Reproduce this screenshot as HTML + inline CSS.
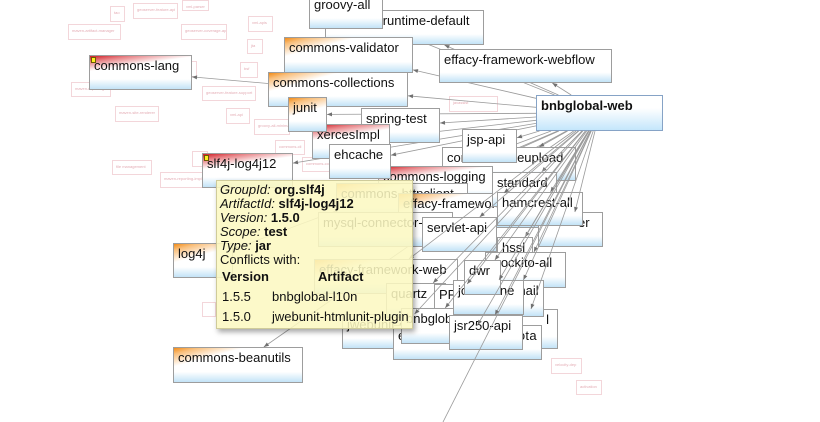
<!DOCTYPE html>
<html><head><meta charset="utf-8">
<style>
html,body{margin:0;padding:0;background:#fff;overflow:hidden;}
#c{position:relative;width:820px;height:422px;overflow:hidden;background:#fff;}
.g{position:absolute;box-sizing:border-box;border:1px solid #f3d6da;font:4px/5px "Liberation Sans",sans-serif;color:#e4adb5;padding:3px 0 0 3px;white-space:nowrap;overflow:hidden;background:#fff}
.n{position:absolute;box-sizing:border-box;border:1px solid #9d9d9d;background:linear-gradient(to bottom,#fff 0,#fff 70%,#c3e3f7 100%);font:13px/15px "Liberation Sans",sans-serif;color:#111;padding:2px 0 0 4px;white-space:nowrap;overflow:hidden}
.o{background:linear-gradient(165deg,#f28c18 0px,rgba(247,170,80,.75) 6px,rgba(255,255,255,0) 18px),linear-gradient(to bottom,#fff 0,#fff 70%,#c3e3f7 100%)}
.r{background:linear-gradient(172deg,#cf1f26 0px,rgba(222,80,85,.7) 6px,rgba(255,255,255,0) 15px),linear-gradient(to bottom,#fff 0,#fff 70%,#c3e3f7 100%)}
.b{border:1px solid #86a3c6;font-weight:bold;background:linear-gradient(to bottom,#fff 0,#fff 35%,#c4e6fb 100%)}
.mk{position:absolute;left:1px;top:1px;width:3px;height:4px;background:#ffee22;border:1px solid #6b5a00}
svg{position:absolute;left:0;top:0}
svg line{stroke:#9a9a9a;stroke-width:.8}
svg polygon{fill:#707070}
#tip{position:absolute;left:216px;top:180px;width:197px;height:149px;box-sizing:border-box;border:1px solid #cfcb9a;background:rgba(251,248,193,.87);box-shadow:2px 3px 5px rgba(0,0,0,.35);font:13px/14px "Liberation Sans",sans-serif;color:#111}
#tip div{position:absolute;white-space:nowrap}
</style></head><body>
<div id="c">
<!-- ghost nodes -->
<div class="g" style="left:110px;top:6px;width:15px;height:16px">tao</div>
<div class="g" style="left:133px;top:3px;width:45px;height:16px">geoserver-feature-api</div>
<div class="g" style="left:182px;top:0px;width:27px;height:11px">xml-parser</div>
<div class="g" style="left:68px;top:24px;width:53px;height:16px">maven-artifact-manager</div>
<div class="g" style="left:181px;top:24px;width:46px;height:16px">geoserver-coverage-api</div>
<div class="g" style="left:248px;top:16px;width:25px;height:16px">xml-apis</div>
<div class="g" style="left:247px;top:39px;width:16px;height:15px">jta</div>
<div class="g" style="left:240px;top:62px;width:18px;height:16px">bsf</div>
<div class="g" style="left:183px;top:61px;width:14px;height:16px"></div>
<div class="g" style="left:71px;top:82px;width:40px;height:15px">maven-reporting</div>
<div class="g" style="left:202px;top:86px;width:54px;height:15px">geoserver-feature-support</div>
<div class="g" style="left:115px;top:106px;width:44px;height:16px">maven-site-renderer</div>
<div class="g" style="left:226px;top:108px;width:24px;height:16px">xml-api</div>
<div class="g" style="left:254px;top:119px;width:36px;height:16px">groovy-all-minimal</div>
<div class="g" style="left:275px;top:140px;width:30px;height:15px">commons-cli</div>
<div class="g" style="left:192px;top:151px;width:16px;height:16px"></div>
<div class="g" style="left:112px;top:160px;width:40px;height:15px">file management</div>
<div class="g" style="left:160px;top:172px;width:43px;height:16px">maven-reporting-impl</div>
<div class="g" style="left:449px;top:96px;width:49px;height:16px">javassist</div>
<div class="g" style="left:302px;top:157px;width:40px;height:15px">commons-codec</div>
<div class="g" style="left:202px;top:302px;width:14px;height:15px"></div>
<div class="g" style="left:551px;top:358px;width:31px;height:16px">velocity-dep</div>
<div class="g" style="left:576px;top:380px;width:26px;height:15px">activation</div>

<svg id="ea" width="820" height="422"></svg>

<div class="n" id="rd" style="left:325px;top:10px;width:159px;height:35px">myfaces-runtime-default</div>
<div class="n" id="ga" style="left:309px;top:-6px;width:74px;height:35px">groovy-all</div>
<div class="n" id="ew" style="left:439px;top:49px;width:173px;height:34px">effacy-framework-webflow</div>
<div class="n o" id="cv" style="left:284px;top:37px;width:129px;height:36px">commons-validator</div>
<div class="n o" id="cc" style="left:268px;top:72px;width:140px;height:35px">commons-collections</div>
<div class="n r" id="cl" style="left:89px;top:55px;width:103px;height:35px"><i class="mk"></i>commons-lang</div>
<div class="n" id="st" style="left:361px;top:108px;width:79px;height:35px">spring-test</div>
<div class="n r" id="xi" style="left:312px;top:124px;width:78px;height:35px">xercesImpl</div>
<div class="n o" id="ju" style="left:288px;top:97px;width:39px;height:35px">junit</div>
<div class="n b" id="bw" style="left:536px;top:95px;width:127px;height:36px">bnbglobal-web</div>
<div class="n" id="fu" style="left:442px;top:147px;width:134px;height:34px">commons-fileupload</div>
<div class="n" id="jp" style="left:462px;top:129px;width:55px;height:34px">jsp-api</div>
<div class="n r" id="lg" style="left:378px;top:166px;width:115px;height:35px">commons-logging</div>
<div class="n" id="eh" style="left:329px;top:144px;width:62px;height:35px">ehcache</div>
<div class="n r" id="sl" style="left:202px;top:153px;width:91px;height:35px"><i class="mk"></i>slf4j-log4j12</div>
<div class="n o" id="hc" style="left:336px;top:183px;width:132px;height:35px">commons-httpclient</div>
<div class="n o" id="ec" style="left:398px;top:193px;width:170px;height:35px">effacy-framework-core</div>
<div class="n" id="sd" style="left:492px;top:172px;width:65px;height:35px">standard</div>
<div class="n" id="te" style="left:538px;top:212px;width:65px;height:35px;padding-left:39px">er</div>
<div class="n" id="ha" style="left:497px;top:192px;width:86px;height:34px">hamcrest-all</div>
<div class="n" id="my" style="left:318px;top:212px;width:135px;height:35px">mysql-connector-java</div>
<div class="n" id="sa" style="left:422px;top:217px;width:75px;height:35px">servlet-api</div>
<div class="n" id="hs" style="left:497px;top:237px;width:36px;height:34px">hssl</div>
<div class="n" id="mo" style="left:485px;top:252px;width:81px;height:36px">mockito-all</div>
<div class="n o" id="fw" style="left:314px;top:259px;width:144px;height:35px">effacy-framework-web</div>
<div class="n" id="lb" style="left:490px;top:309px;width:68px;height:40px;text-align:right;padding-right:8px">l</div>
<div class="n" id="jw" style="left:342px;top:314px;width:113px;height:35px">jwebunit-core</div>
<div class="n" id="qz" style="left:386px;top:283px;width:60px;height:35px">quartz</div>
<div class="n" id="pp" style="left:434px;top:284px;width:40px;height:34px">PPs</div>
<div class="n" id="ta" style="left:393px;top:325px;width:149px;height:35px;letter-spacing:.3px">ejb3-persistence-quota</div>
<div class="n" id="bl" style="left:401px;top:308px;width:60px;height:36px">bnbglobal-l10n</div>
<div class="n" id="ml" style="left:486px;top:280px;width:58px;height:37px">javamail</div>
<div class="n" id="jc" style="left:453px;top:280px;width:71px;height:35px">jcr-lucene</div>
<div class="n" id="dw" style="left:464px;top:260px;width:37px;height:35px">dwr</div>
<div class="n" id="js" style="left:449px;top:315px;width:74px;height:35px">jsr250-api</div>
<div class="n o" id="l4" style="left:173px;top:243px;width:60px;height:35px">log4j</div>
<div class="n o" id="cb" style="left:173px;top:347px;width:130px;height:36px">commons-beanutils</div>

<svg id="eb" width="820" height="422"></svg>

<div id="tip">
<div style="left:3px;top:2px"><i>GroupId:</i> <b>org.slf4j</b></div>
<div style="left:3px;top:16px"><i>ArtifactId:</i> <b>slf4j-log4j12</b></div>
<div style="left:3px;top:30px"><i>Version:</i> <b>1.5.0</b></div>
<div style="left:3px;top:44px"><i>Scope:</i> <b>test</b></div>
<div style="left:3px;top:58px"><i>Type:</i> <b>jar</b></div>
<div style="left:3px;top:72px">Conflicts with:</div>
<div style="left:5px;top:89px"><b>Version</b></div>
<div style="left:101px;top:89px"><b>Artifact</b></div>
<div style="left:5px;top:109px">1.5.5</div>
<div style="left:55px;top:109px">bnbglobal-l10n</div>
<div style="left:5px;top:129px">1.5.0</div>
<div style="left:55px;top:129px">jwebunit-htmlunit-plugin</div>
</div>
</div>
<script>
(function(){
function R(id){if(id==='off')return {x:400,y:440,w:50,h:35};var e=document.getElementById(id);return {x:e.offsetLeft,y:e.offsetTop,w:e.offsetWidth,h:e.offsetHeight};}
function ex(r,tx,ty){var cx=r.x+r.w/2,cy=r.y+r.h/2,dx=tx-cx,dy=ty-cy,t=1;
 if(dx)t=Math.min(t,r.w/2/Math.abs(dx)); if(dy)t=Math.min(t,r.h/2/Math.abs(dy));
 return [cx+dx*t,cy+dy*t];}
function f(v){return v.toFixed(1);}
function draw(svgId,list){var s='';
 list.forEach(function(p){var a=R(p[0]),b=R(p[1]);
  var p1=ex(a,b.x+b.w/2,b.y+b.h/2),p2=ex(b,a.x+a.w/2,a.y+a.h/2);
  var dx=p2[0]-p1[0],dy=p2[1]-p1[1],L=Math.sqrt(dx*dx+dy*dy)||1,ux=dx/L,uy=dy/L;
  s+='<line x1="'+f(p1[0])+'" y1="'+f(p1[1])+'" x2="'+f(p2[0])+'" y2="'+f(p2[1])+'"/>';
  var bx=p2[0]-ux*5,by=p2[1]-uy*5;
  s+='<polygon points="'+f(p2[0])+','+f(p2[1])+' '+f(bx-uy*2)+','+f(by+ux*2)+' '+f(bx+uy*2)+','+f(by-ux*2)+'"/>';
 });
 document.getElementById(svgId).innerHTML=s;}
var A=[['bw','ga'],['bw','rd'],['bw','ew'],['bw','cv'],['bw','cc'],['bw','ju'],['bw','st'],['bw','xi'],['bw','eh'],['bw','sl'],['bw','l4'],['bw','cb'],['bw','lg'],['bw','hc'],['bw','my'],['cc','cl']];
var B=[['bw','jp'],['bw','fu'],['bw','sd'],['bw','ha'],['bw','te'],['bw','ec'],['bw','sa'],['bw','hs'],['bw','mo'],['bw','fw'],['bw','qz'],['bw','pp'],['bw','jc'],['bw','ml'],['bw','bl'],['bw','jw'],['bw','ta'],['bw','lb'],['bw','js'],['bw','dw'],['bw','off']];
draw('ea',A);draw('eb',B);
})();
</script>
</body></html>
